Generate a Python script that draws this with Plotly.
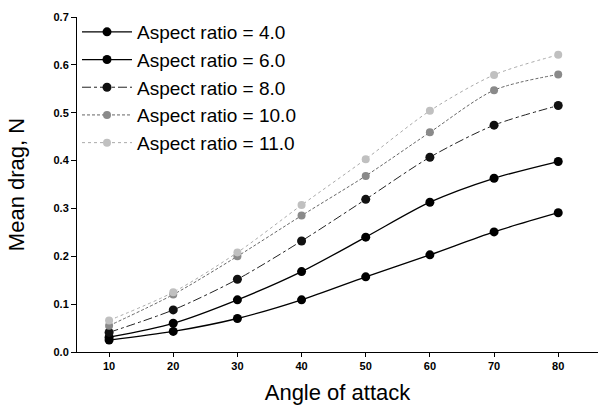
import plotly.graph_objects as go

angles = [10, 20, 30, 40, 50, 60, 70, 80]
series_names = ["Aspect ratio = 4.0", "Aspect ratio = 6.0", "Aspect ratio = 8.0",
                "Aspect ratio = 10.0", "Aspect ratio = 11.0"]
ar4 = [0.025, 0.043, 0.070, 0.109, 0.157, 0.203, 0.251, 0.291]
ar6 = [0.031, 0.060, 0.109, 0.168, 0.240, 0.313, 0.363, 0.398]
ar8 = [0.041, 0.088, 0.152, 0.232, 0.319, 0.407, 0.474, 0.515]
ar10 = [0.055, 0.120, 0.200, 0.285, 0.368, 0.459, 0.547, 0.580]
ar11 = [0.066, 0.125, 0.208, 0.307, 0.403, 0.504, 0.579, 0.621]
y_ticks = [0.0, 0.1, 0.2, 0.3, 0.4, 0.5, 0.6, 0.7]

styles = [
    dict(color="black", dash="solid", mcolor="black", width=1.3, size=9),
    dict(color="black", dash="solid", mcolor="black", width=1.3, size=9),
    dict(color="#222222", dash="dashdot", mcolor="#111111", width=1.0, size=9),
    dict(color="#555555", dash="3px,2px", mcolor="#8a8a8a", width=0.9, size=8),
    dict(color="#a0a0a0", dash="dot", mcolor="#c0c0c0", width=0.9, size=8),
]

FONT = "Liberation Sans, Arial, sans-serif"

fig = go.Figure()
for name, vals, st in zip(series_names, [ar4, ar6, ar8, ar10, ar11], styles):
    fig.add_trace(go.Scatter(
        x=angles, y=vals, name=name, mode="lines+markers",
        line=dict(color=st["color"], dash=st["dash"], width=st["width"], shape="spline", smoothing=0.8),
        marker=dict(symbol="circle", size=st["size"], color=st["mcolor"],
                    line=dict(color=st["mcolor"], width=0)),
    ))

fig.update_layout(
    width=607, height=414,
    margin=dict(l=77, r=9, t=17, b=62),
    paper_bgcolor="white", plot_bgcolor="white",
    font=dict(family=FONT, color="black"),
    showlegend=True,
    legend=dict(x=0.0, y=1.012, xanchor="left", yanchor="top",
                font=dict(size=19, color="black"), bgcolor="rgba(0,0,0,0)",
                tracegroupgap=0, itemwidth=50),
    xaxis=dict(
        range=[5, 86.2], tickvals=angles, ticks="outside", ticklen=4,
        tickcolor="black", showline=True, linecolor="black", linewidth=1,
        showgrid=False, zeroline=False,
        tickfont=dict(size=11, family=FONT, weight="bold"),
        title=dict(text="Angle of attack", font=dict(size=22), standoff=13),
    ),
    yaxis=dict(
        range=[0, 0.7], tickvals=y_ticks, tickformat=".1f", ticks="outside", ticklen=5,
        tickcolor="black", showline=True, linecolor="black", linewidth=1,
        showgrid=False, zeroline=False,
        tickfont=dict(size=11, family=FONT, weight="bold"),
        title=dict(text="Mean drag, N", font=dict(size=22), standoff=22),
    ),
)

fig.write_html("out.html")
